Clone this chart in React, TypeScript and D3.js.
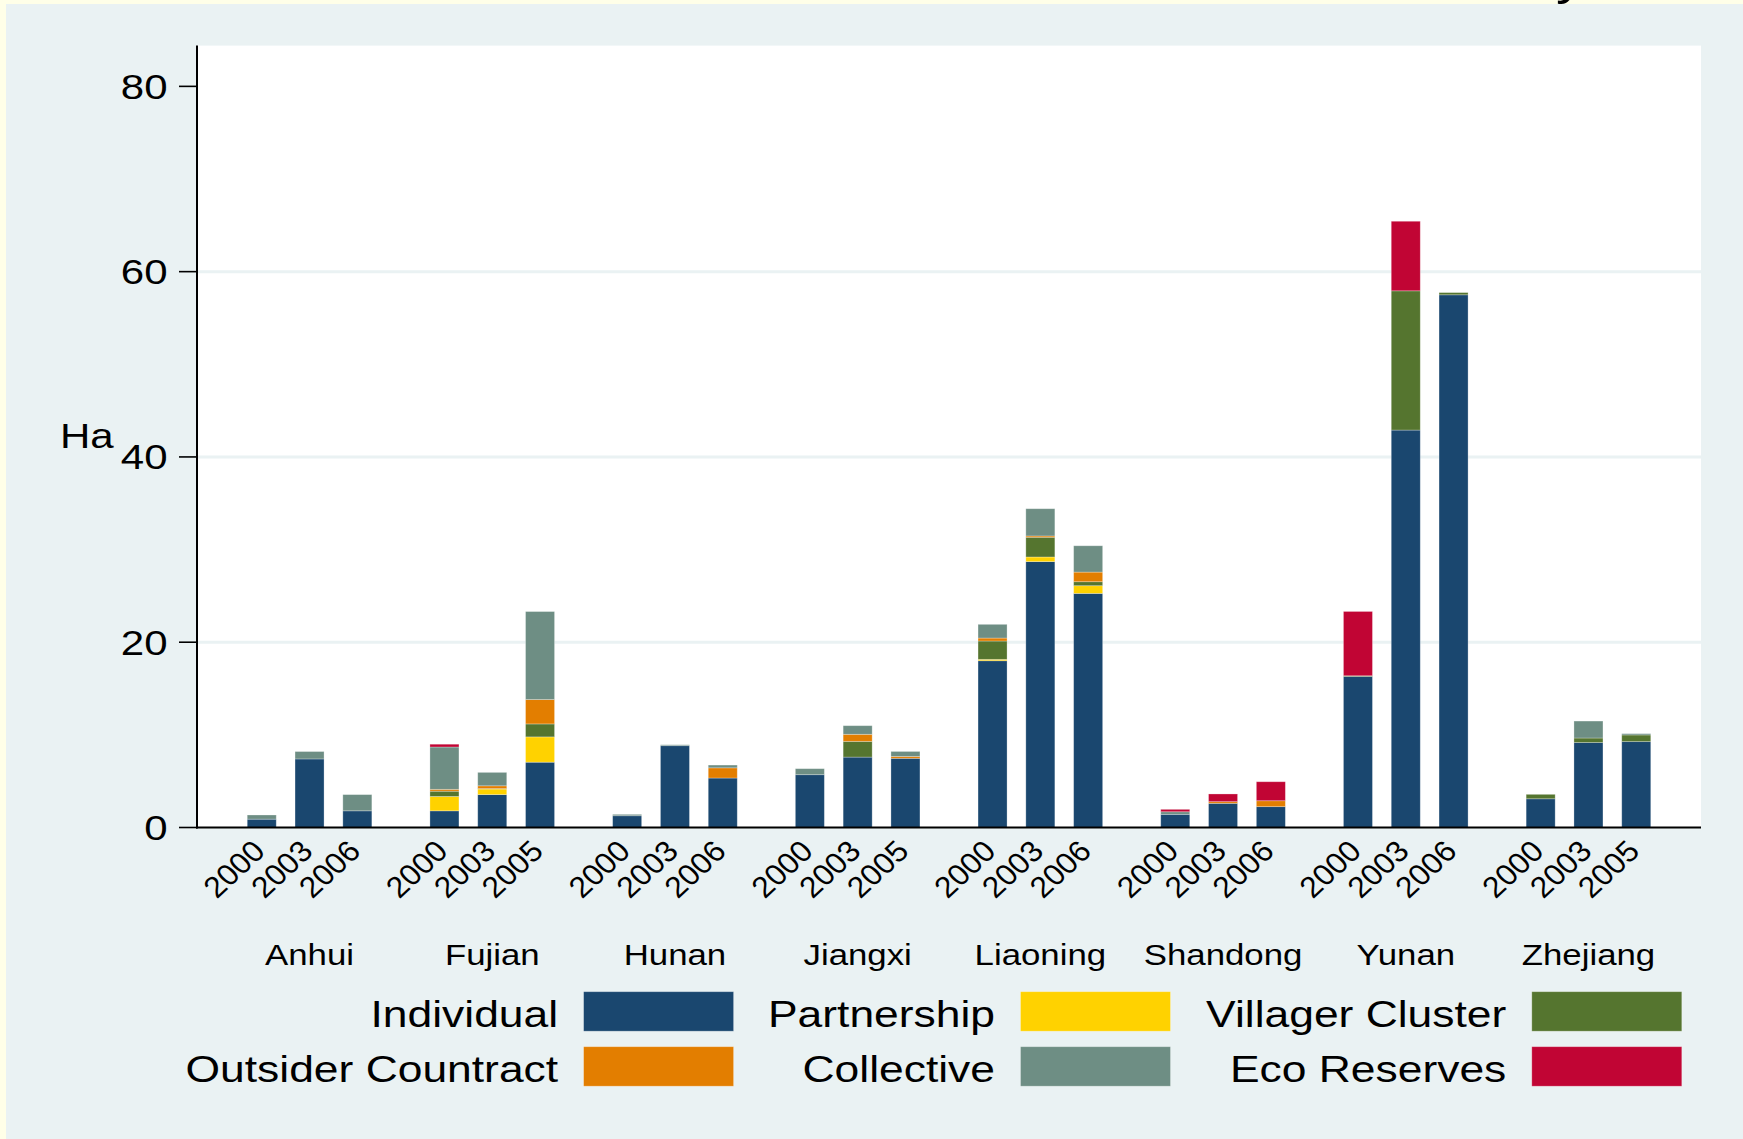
import React from "react";
import * as d3 from "d3";

const provinces = ["Anhui", "Fujian", "Hunan", "Jiangxi", "Liaoning", "Shandong", "Yunan", "Zhejiang"];
const yearLabels = [
  ["2000", "2003", "2006"],
  ["2000", "2003", "2005"],
  ["2000", "2003", "2006"],
  ["2000", "2003", "2005"],
  ["2000", "2003", "2006"],
  ["2000", "2003", "2006"],
  ["2000", "2003", "2006"],
  ["2000", "2003", "2005"],
];
const seriesNames = ["Individual", "Partnership", "Villager Cluster", "Outsider Countract", "Collective", "Eco Reserves"];
const seriesColors = ["#1A476F", "#FFD200", "#55752F", "#E37E00", "#6E8E84", "#C10534"];

// values per bar, ordered province by province, year by year
const individual = [0.9, 7.4, 1.8, 1.8, 3.55, 7.05, 1.27, 8.83, 5.34, 5.7, 7.6, 7.47, 18.0, 28.7, 25.27, 1.42, 2.61, 2.25, 16.3, 42.9, 57.5, 3.1, 9.17, 9.27];
const partnership = [0, 0, 0, 1.55, 0.6, 2.73, 0, 0, 0, 0, 0, 0, 0.15, 0.5, 0.83, 0, 0, 0, 0, 0, 0, 0, 0, 0];
const villagerCluster = [0, 0, 0, 0.57, 0.05, 1.4, 0, 0, 0, 0, 1.7, 0, 1.98, 2.13, 0.43, 0, 0, 0, 0.08, 15.03, 0.24, 0.48, 0.49, 0.72];
const outsiderContract = [0, 0, 0, 0.2, 0.3, 2.63, 0, 0, 1.1, 0, 0.76, 0.2, 0.32, 0.14, 1.04, 0, 0.18, 0.64, 0, 0, 0, 0, 0, 0];
const collective = [0.45, 0.8, 1.75, 4.57, 1.45, 9.5, 0.15, 0.1, 0.3, 0.65, 0.93, 0.54, 1.48, 2.94, 2.84, 0.28, 0, 0, 0, 0, 0, 0, 1.83, 0.14];
const ecoReserves = [0, 0, 0, 0.3, 0, 0, 0, 0, 0, 0, 0, 0, 0, 0, 0, 0.26, 0.83, 2.05, 6.94, 7.51, 0, 0, 0, 0];
const yTicks = [0, 20, 40, 60, 80];
const gridTicks = [20, 40, 60];

const W = 1743;
const H = 1139;
const SX = 1.2;
const FONT = "'Liberation Sans', Arial, Helvetica, sans-serif";

const plot = { left: 197, right: 1701, top: 45.6, bottom: 827.5 };

function SText(props: {
  x: number; y: number; size: number; anchor?: string; rotate?: number; children: React.ReactNode; fill?: string; sx?: number;
}) {
  const { x, y, size, anchor = "start", rotate, children, fill = "#000", sx = SX } = props;
  const tr = `translate(${x},${y}) scale(${sx},1)` + (rotate ? ` rotate(${rotate})` : "");
  return (
    <text transform={tr} fontSize={size} textAnchor={anchor} fontFamily={FONT} fill={fill}>
      {children}
    </text>
  );
}

export default function App() {
  const seriesData = [individual, partnership, villagerCluster, outsiderContract, collective, ecoReserves];
  const rows = individual.map((_, i) => {
    const r: any = { idx: i, prov: Math.floor(i / 3), slot: i % 3 };
    seriesNames.forEach((s, k) => (r[s] = seriesData[k][i]));
    return r;
  });
  const stacked = d3.stack<any>().keys(seriesNames)(rows);

  const x0 = d3.scaleBand<string>().domain(provinces).range([plot.left, plot.right]).paddingInner(0).paddingOuter(0.116);
  const x1 = d3.scaleBand<number>().domain([0, 1, 2]).range([0, x0.bandwidth()]).paddingInner(0.393).paddingOuter(0.6075);
  const y = d3.scaleLinear().domain([0, 84.4]).range([plot.bottom, plot.top]);

  const barX = (r: any) => (x0(provinces[r.prov]) as number) + (x1(r.slot) as number);
  const bw = x1.bandwidth();

  const legendRows = [
    { y: 991.7, items: [0, 1, 2] },
    { y: 1046.7, items: [3, 4, 5] },
  ];
  const legendSwatchX = [583.6, 1020.5, 1531.8];

  return (
    <svg width={W} height={H} style={{ position: "absolute", left: 0, top: 0, display: "block" }}>
      <rect x={0} y={0} width={W} height={H} fill="#FFFFE8" />
      <rect x={6} y={4} width={W - 6} height={H - 4} fill="#EAF2F3" />
      <SText x={1556} y={-6} size={48}>y</SText>
      <rect x={plot.left} y={plot.top} width={plot.right - plot.left} height={plot.bottom - plot.top} fill="#FFFFFF" />
      {gridTicks.map((t) => (
        <line key={t} x1={plot.left} x2={plot.right} y1={y(t)} y2={y(t)} stroke="#EAF2F3" strokeWidth={3} />
      ))}
      {stacked.map((s, k) => (
        <g key={s.key} fill={seriesColors[k]}>
          {s.map((d, i) => {
            const h = y(d[0]) - y(d[1]);
            if (h <= 0) return null;
            return (
              <rect key={i} x={barX(rows[i])} y={y(d[1])} width={bw} height={h}
                stroke="rgba(255,255,255,0.35)" strokeWidth={0.8} />
            );
          })}
        </g>
      ))}
      {/* axes */}
      <line x1={plot.left} x2={plot.left} y1={plot.top} y2={plot.bottom + 1} stroke="#000" strokeWidth={2} />
      <line x1={plot.left - 1} x2={plot.right} y1={plot.bottom} y2={plot.bottom} stroke="#000" strokeWidth={2} />
      {yTicks.map((t) => (
        <g key={t}>
          <line x1={plot.left - 18} x2={plot.left} y1={y(t)} y2={y(t)} stroke="#000" strokeWidth={1.6} />
          <SText x={167.5} y={y(t) + 12.5} size={35} anchor="end">{String(t)}</SText>
        </g>
      ))}
      <SText x={60} y={448} size={35}>Ha</SText>
      {rows.map((r, i) => (
        <SText key={i} x={barX(r) + bw / 2 + 5} y={853} size={29.5} sx={1.08} anchor="end" rotate={-45}>
          {yearLabels[r.prov][r.slot]}
        </SText>
      ))}
      {provinces.map((p) => (
        <SText key={p} x={(x0(p) as number) + x0.bandwidth() / 2} y={965} size={29} anchor="middle">{p}</SText>
      ))}
      {/* legend */}
      {legendRows.map((row, ri) =>
        row.items.map((k, ci) => (
          <g key={k}>
            <rect x={legendSwatchX[ci]} y={row.y} width={150} height={39.5} fill={seriesColors[k]}
              stroke="rgba(255,255,255,0.35)" strokeWidth={0.8} />
            <SText x={legendSwatchX[ci] - 25.5} y={row.y + 35} size={37} anchor="end">{seriesNames[k]}</SText>
          </g>
        ))
      )}
    </svg>
  );
}
